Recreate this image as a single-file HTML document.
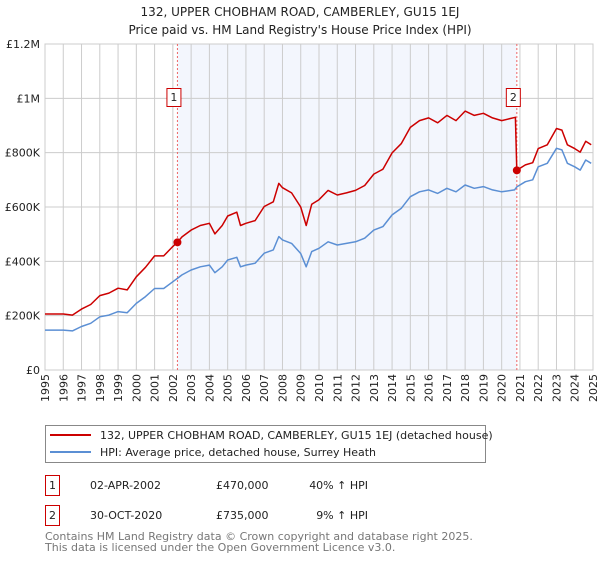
<!DOCTYPE html>
<html><head><meta charset="utf-8"><style>
body{margin:0;background:#fff;font-family:"DejaVu Sans","Liberation Sans",sans-serif;}
svg text{font-family:"DejaVu Sans","Liberation Sans",sans-serif;}
</style></head><body>
<svg id="chart" width="600" height="560" xmlns="http://www.w3.org/2000/svg">
<text x="300" y="16" text-anchor="middle" font-size="12" fill="#222">132, UPPER CHOBHAM ROAD, CAMBERLEY, GU15 1EJ</text>
<text x="300" y="34" text-anchor="middle" font-size="12" fill="#222">Price paid vs. HM Land Registry's House Price Index (HPI)</text>
<g id="plot"></g>
<g>
<rect x="45.5" y="425.5" width="440" height="37" fill="#fff" stroke="#888"/>
<line x1="50" y1="435" x2="91" y2="435" stroke="#cc0000" stroke-width="2"/>
<text x="100" y="439" font-size="11" fill="#222">132, UPPER CHOBHAM ROAD, CAMBERLEY, GU15 1EJ (detached house)</text>
<line x1="50" y1="452" x2="91" y2="452" stroke="#5b8fd4" stroke-width="2"/>
<text x="100" y="456" font-size="11" fill="#222">HPI: Average price, detached house, Surrey Heath</text>
</g>
<g font-size="11" fill="#222">
<rect x="45.5" y="475.5" width="14" height="20" fill="#fff" stroke="#cc0000"/>
<text x="52.5" y="489" text-anchor="middle">1</text>
<text x="90" y="489">02-APR-2002</text>
<text x="216" y="489">£470,000</text>
<text x="368" y="489" text-anchor="end">40% ↑ HPI</text>
<rect x="45.5" y="505.5" width="14" height="20" fill="#fff" stroke="#cc0000"/>
<text x="52.5" y="519" text-anchor="middle">2</text>
<text x="90" y="519">30-OCT-2020</text>
<text x="216" y="519">£735,000</text>
<text x="368" y="519" text-anchor="end">9% ↑ HPI</text>
</g>
<text x="45" y="540" font-size="11" fill="#777">Contains HM Land Registry data © Crown copyright and database right 2025.</text>
<text x="45" y="551" font-size="11" fill="#777">This data is licensed under the Open Government Licence v3.0.</text>
</svg>
<script>
const hpiYears=[1995,1996,1996.5,1997,1997.5,1998,1998.5,1999,1999.5,2000,2000.5,2001,2001.5,2002,2002.25,2002.5,2003,2003.5,2004,2004.3,2004.7,2005,2005.5,2005.7,2006,2006.5,2007,2007.5,2007.8,2008,2008.5,2009,2009.3,2009.6,2010,2010.5,2011,2011.5,2012,2012.5,2013,2013.5,2014,2014.5,2015,2015.5,2016,2016.5,2017,2017.5,2018,2018.5,2019,2019.5,2020,2020.7,2020.83,2021.3,2021.7,2022,2022.5,2023,2023.3,2023.6,2024,2024.3,2024.6,2024.9];
const hpiValues=[147,147,144,160,172,196,202,215,211,245,270,300,300,325,337,350,368,380,386,358,380,405,415,380,386,393,430,442,491,479,466,429,380,436,448,472,460,466,472,485,515,528,571,595,638,656,663,650,669,656,681,669,675,663,656,663,674,693,700,748,761,816,810,761,748,736,773,761];
const propYears=[1995,1996,1996.5,1997,1997.5,1998,1998.5,1999,1999.5,2000,2000.5,2001,2001.5,2002,2002.25,2002.5,2003,2003.5,2004,2004.3,2004.7,2005,2005.5,2005.7,2006,2006.5,2007,2007.5,2007.8,2008,2008.5,2009,2009.3,2009.6,2010,2010.5,2011,2011.5,2012,2012.5,2013,2013.5,2014,2014.5,2015,2015.5,2016,2016.5,2017,2017.5,2018,2018.5,2019,2019.5,2020,2020.75,2020.83,2021.3,2021.7,2022,2022.5,2023,2023.3,2023.6,2024,2024.3,2024.6,2024.9];
const propValues=[206,206,202,224,241,274,283,301,295,343,378,420,420,455,470,490,515,532,540,501,532,567,581,532,540,550,602,619,687,671,652,600,532,610,627,661,644,652,661,679,721,739,799,833,893,918,928,910,937,918,953,937,945,928,918,930,735,755,763,815,829,889,883,829,815,802,842,829];
const saleYears=[2002.25,2020.83];
const saleValues=[470,735];
const saleLabels=["1","2"];
const yTicks=[0,200,400,600,800,1000,1200];
const yTickLabels=["£0","£200K","£400K","£600K","£800K","£1M","£1.2M"];
const xTicks=[1995,1996,1997,1998,1999,2000,2001,2002,2003,2004,2005,2006,2007,2008,2009,2010,2011,2012,2013,2014,2015,2016,2017,2018,2019,2020,2021,2022,2023,2024,2025];

const X0=45,X1=593,Y0=370,Y1=44;
const xs=y=>X0+(y-1995)/30*(X1-X0);
const ys=v=>Y0-v/1200*(Y0-Y1);
const NS="http://www.w3.org/2000/svg";
const g=document.getElementById('plot');
function mk(t,a){const e=document.createElementNS(NS,t);for(const k in a)e.setAttribute(k,a[k]);g.appendChild(e);return e;}

const shade=mk('rect',{x:xs(saleYears[0]),y:Y1,width:xs(saleYears[1])-xs(saleYears[0]),height:Y0-Y1,fill:'#eef2fc',opacity:0.7});


xTicks.forEach(t=>{
  const l=mk('line',{x1:xs(t),x2:xs(t),y1:Y1,y2:Y0,stroke:'#ccc','stroke-width':1});
  
  
  const tx=mk('text',{x:0,y:0,'font-size':11,fill:'#222','text-anchor':'end',transform:`translate(${xs(t)+4},374) rotate(-90)`});
  tx.textContent=t;
  
  
});
yTicks.forEach((t,i)=>{
  const l=mk('line',{x1:X0,x2:X1,y1:ys(t),y2:ys(t),stroke:'#ccc','stroke-width':1});
  
  
  const tx=mk('text',{x:40,y:ys(t)+4,'font-size':11,fill:'#222','text-anchor':'end'});
  tx.textContent=yTickLabels[i];
  
  
});
const border=mk('rect',{x:X0,y:Y1,width:X1-X0,height:Y0-Y1,fill:'none',stroke:'#ccc'});


saleYears.forEach((s,i)=>{
  const l=mk('line',{x1:xs(s),x2:xs(s),y1:Y1,y2:Y0,stroke:'#ee6666','stroke-width':1,'stroke-dasharray':'2,2'});
  
  
});
function path(xa,va,color,name){
  const d=xa.map((x,i)=>(i?'L':'M')+xs(x).toFixed(1)+','+ys(va[i]).toFixed(1)).join('');
  const p=mk('path',{d:d,fill:'none',stroke:color,'stroke-width':1.5,'stroke-linejoin':'round'});
  
  
}
path(hpiYears,hpiValues,'#5b8fd4','hpi-line');
path(propYears,propValues,'#cc0000','property-line');
saleYears.forEach((s,i)=>{
  const c=mk('circle',{cx:xs(s),cy:ys(saleValues[i]),r:4,fill:'#cc0000'});
  
  
  const bx=xs(s)-3;
  const r=mk('rect',{x:bx-7.5,y:88.5,width:14,height:18,fill:'#fff',stroke:'#cc0000'});
  
  
  const t=mk('text',{x:bx-0.5,y:101,'font-size':11,fill:'#222','text-anchor':'middle'});
  t.textContent=saleLabels[i];
  
  
});
</script>
</body></html>
